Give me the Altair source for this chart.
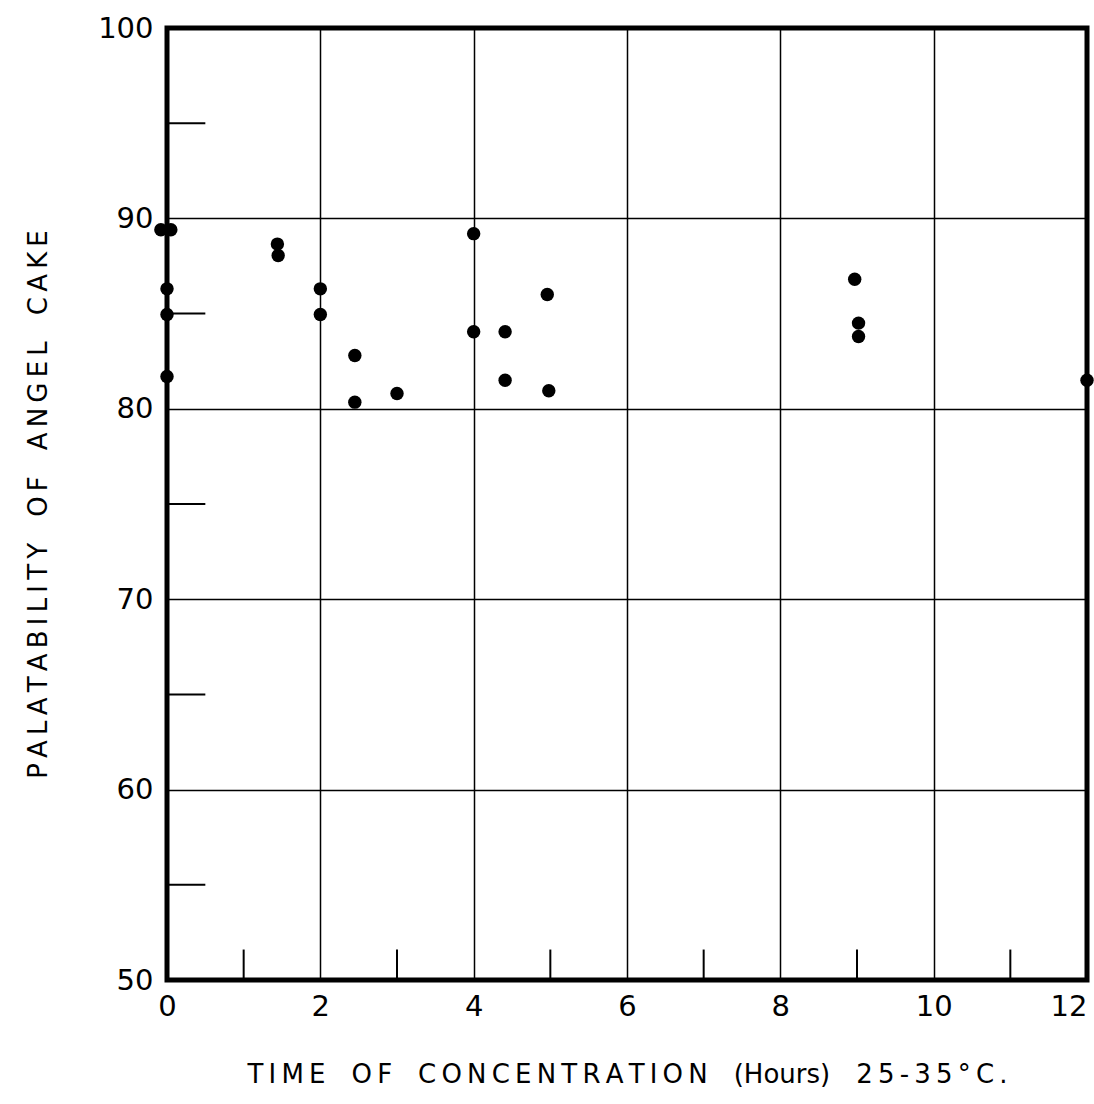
import altair as alt
import pandas as pd

# Data
hours = [-0.08, 0.05, 0.0, 0.0, 0.0, 1.44, 1.45, 2.0, 2.0, 2.45, 2.45, 3.0,
         4.0, 4.0, 4.41, 4.41, 4.96, 4.98, 8.97, 9.02, 9.02, 12.0]
palatability = [89.4, 89.4, 86.3, 84.95, 81.7, 88.65, 88.05, 86.3, 84.95, 82.8, 80.35, 80.8,
                89.2, 84.05, 84.05, 81.5, 86.0, 80.95, 86.8, 84.5, 83.8, 81.5]

x_major = [0, 2, 4, 6, 8, 10, 12]
y_major = [50, 60, 70, 80, 90, 100]
x_minor = [1, 3, 5, 7, 9, 11]
y_minor = [55, 65, 75, 85, 95]
x_domain = [0, 12]
y_domain = [50, 100]

FONT = "DejaVu Sans"
TS = "\u2009"   # thin space between letters
WS = "\u2002"   # en space between words


def spaced(text, keep=()):
    words = text.split(" ")
    return (WS + WS).join(w if w in keep else TS.join(list(w)) for w in words)


x_title = spaced("TIME OF CONCENTRATION (Hours) 25-35°C.", keep=("(Hours)",))
y_title = spaced("PALATABILITY OF ANGEL CAKE")

pts = pd.DataFrame({"hours": hours, "pal": palatability})
xt = pd.DataFrame({"x": x_minor, "y0": [50] * len(x_minor), "y1": [51.6] * len(x_minor)})
yt = pd.DataFrame({"y": y_minor, "x0": [0] * len(y_minor), "x1": [0.5] * len(y_minor)})
frame = pd.DataFrame({"x0": [x_domain[0]], "x1": [x_domain[1]],
                      "y0": [y_domain[0]], "y1": [y_domain[1]]})

xscale = alt.Scale(domain=x_domain, nice=False, zero=False)
yscale = alt.Scale(domain=y_domain, nice=False, zero=False)

xaxis = alt.Axis(values=x_major, format="d", grid=True, gridColor="black", gridWidth=1.5,
                 gridOpacity=1, ticks=False, domain=False, labelFontSize=29, labelFont=FONT,
                 labelColor="black", labelPadding=12,
                 labelAlign=alt.expr("datum.value == 12 ? 'right' : 'center'"),
                 title=x_title, titleFontSize=26, titleFont=FONT, titleFontWeight="normal",
                 titleColor="black", titlePadding=40, labelFlush=False)
yaxis = alt.Axis(values=y_major, format="d", grid=True, gridColor="black", gridWidth=1.5,
                 gridOpacity=1, ticks=False, domain=False, labelFontSize=29, labelFont=FONT,
                 labelColor="black", labelPadding=14,
                 title=y_title, titleFontSize=26, titleFont=FONT, titleFontWeight="normal",
                 titleColor="black", titlePadding=46, labelFlush=False)

points = alt.Chart(pts).mark_circle(size=180, color="black", opacity=1).encode(
    x=alt.X("hours:Q", scale=xscale, axis=xaxis),
    y=alt.Y("pal:Q", scale=yscale, axis=yaxis),
)

xticks = alt.Chart(xt).mark_rule(color="black", strokeWidth=2).encode(
    x=alt.X("x:Q", scale=xscale), y=alt.Y("y0:Q", scale=yscale), y2="y1:Q"
)
yticks = alt.Chart(yt).mark_rule(color="black", strokeWidth=2).encode(
    y=alt.Y("y:Q", scale=yscale), x=alt.X("x0:Q", scale=xscale), x2="x1:Q"
)
box = alt.Chart(frame).mark_rect(fill=None, stroke="black", strokeWidth=5).encode(
    x=alt.X("x0:Q", scale=xscale), x2="x1:Q",
    y=alt.Y("y0:Q", scale=yscale), y2="y1:Q",
)

chart = alt.layer(xticks, yticks, box, points).properties(
    width=920, height=952,
    autosize=alt.AutoSizeParams(type="none"),
    padding={"left": 167, "top": 28, "right": 7, "bottom": 124},
).configure_view(
    stroke=None
).configure(background="white")

chart.save("out.html", embed_options={"renderer": "svg", "actions": False})
